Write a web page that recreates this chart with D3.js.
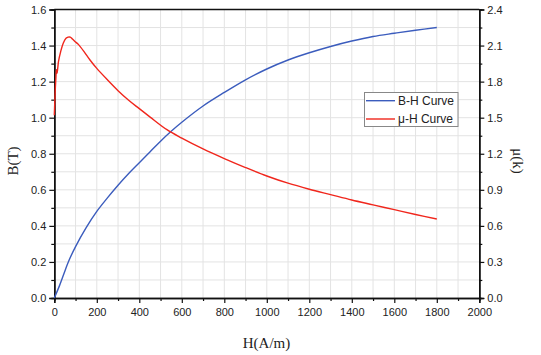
<!DOCTYPE html>
<html><head><meta charset="utf-8">
<script src="https://cdn.jsdelivr.net/npm/d3@7"></script>
<style>body{margin:0;background:#fff}svg{display:block}</style>
</head><body>
<svg id="c" width="541" height="355"></svg>
<script>
// Data
const bhH = [0,25,50,66,100,150,200,250,300,350,400,450,500,550,600,700,800,900,1000,1100,1200,1300,1400,1500,1600,1700,1800];
const bhB = [0,0.07,0.15,0.2,0.285,0.39,0.48,0.555,0.625,0.69,0.75,0.81,0.87,0.925,0.975,1.065,1.14,1.21,1.27,1.32,1.36,1.395,1.425,1.45,1.468,1.485,1.50];
const muH = [0,5,8,10,13,16,20,30,42,55,65,75,85,100,113,140,168,200,250,300,350,400,451,530,600,700,800,900,1000,1100,1200,1300,1400,1500,1600,1700,1800];
const muK = [1.52,1.75,1.85,1.90,1.87,1.91,1.97,2.05,2.12,2.16,2.17,2.17,2.155,2.13,2.11,2.05,1.98,1.91,1.815,1.725,1.645,1.575,1.505,1.40,1.33,1.24,1.16,1.085,1.015,0.955,0.905,0.86,0.815,0.775,0.735,0.695,0.657];
const xTicks = [0,200,400,600,800,1000,1200,1400,1600,1800,2000];
const yLeftTicks = [0,0.2,0.4,0.6,0.8,1.0,1.2,1.4,1.6];
const yRightTicks = [0,0.3,0.6,0.9,1.2,1.5,1.8,2.1,2.4];
const seriesNames = ["B-H Curve","μ-H Curve"];
const seriesColors = ["#3b5cbd","#f0261c"];

const svg = d3.select("#c");
const L = 54.3, R = 479.3, T = 9.5, B = 298;
const x = d3.scaleLinear().domain([0,2000]).range([L,R]);
const yL = d3.scaleLinear().domain([0,1.6]).range([B,T]);
const yR = d3.scaleLinear().domain([0,2.4]).range([B,T]);

// grid
const g = svg.append("g");
g.selectAll(".gx").data(d3.range(100,2000,100)).join("line")
  .attr("x1",d=>x(d)).attr("x2",d=>x(d)).attr("y1",T).attr("y2",B)
  .attr("stroke","#e3e3e3").attr("stroke-width",1);
g.selectAll(".gy").data(d3.range(1,16).map(d=>d/10)).join("line")
  .attr("y1",d=>yL(d)).attr("y2",d=>yL(d)).attr("x1",L).attr("x2",R)
  .attr("stroke","#e3e3e3").attr("stroke-width",1);

const font = "'Liberation Sans', Arial, sans-serif";
function styleAxis(sel){
  sel.selectAll("path").attr("stroke","#111").attr("stroke-width",1.5);
  sel.selectAll("line").attr("stroke","#111").attr("stroke-width",1.2);
  sel.selectAll("text").attr("font-family",font).attr("font-size",11).attr("fill","#222");
}
// minor ticks
const ax = svg.append("g").attr("transform",`translate(0,${B})`)
  .call(d3.axisBottom(x).tickValues(d3.range(100,2000,200)).tickSize(3).tickFormat(""));
styleAxis(ax);
const axM = svg.append("g").attr("transform",`translate(0,${B})`)
  .call(d3.axisBottom(x).tickValues(xTicks).tickSize(5).tickPadding(5).tickFormat(d3.format("d")));
styleAxis(axM);
const ayl = svg.append("g").attr("transform",`translate(${L},0)`)
  .call(d3.axisLeft(yL).tickValues(d3.range(0.1,1.6,0.2)).tickSize(3).tickFormat(""));
styleAxis(ayl);
const aylM = svg.append("g").attr("transform",`translate(${L},0)`)
  .call(d3.axisLeft(yL).tickValues(yLeftTicks).tickSize(5).tickPadding(3).tickFormat(d3.format(".1f")));
styleAxis(aylM);
const ayr = svg.append("g").attr("transform",`translate(${R},0)`)
  .call(d3.axisRight(yR).tickValues(d3.range(0.15,2.4,0.3)).tickSize(3).tickFormat(""));
styleAxis(ayr);
const ayrM = svg.append("g").attr("transform",`translate(${R},0)`)
  .call(d3.axisRight(yR).tickValues(yRightTicks).tickSize(5).tickPadding(3).tickFormat(d3.format(".1f")));
styleAxis(ayrM);
// top border
svg.append("line").attr("x1",L).attr("x2",R).attr("y1",T).attr("y2",T).attr("stroke","#111").attr("stroke-width",1.5);

// lines
const lineB = d3.line().x((d,i)=>x(bhH[i])).y(d=>yL(d)).curve(d3.curveCatmullRom.alpha(0.5));
const lineM = d3.line().x((d,i)=>x(muH[i])).y(d=>yR(d)).curve(d3.curveCatmullRom.alpha(0.5));
svg.append("path").attr("d",lineB(bhB)).attr("fill","none").attr("stroke",seriesColors[0]).attr("stroke-width",1.4);
svg.append("path").attr("d",lineM(muK)).attr("fill","none").attr("stroke",seriesColors[1]).attr("stroke-width",1.4);

// titles
const serif = "'Liberation Serif','Times New Roman',serif";
svg.append("text").attr("x",266.5).attr("y",348).attr("text-anchor","middle")
  .attr("font-family",serif).attr("font-size",15).attr("fill","#222").text("H(A/m)");
svg.append("text").attr("transform","translate(18,161) rotate(-90)").attr("text-anchor","middle")
  .attr("font-family",serif).attr("font-size",15).attr("fill","#222").text("B(T)");
svg.append("text").attr("transform","translate(513,161) rotate(90)").attr("text-anchor","middle")
  .attr("font-family",serif).attr("font-size",15).attr("fill","#222").text("μ(k)");

// legend
const lg = svg.append("g");
lg.append("rect").attr("x",364.5).attr("y",92.5).attr("width",93.5).attr("height",34)
  .attr("fill","#fff").attr("stroke","#888").attr("stroke-width",1);
seriesNames.forEach((n,i)=>{
  const yy = 100.7 + i*18.3;
  lg.append("line").attr("x1",366).attr("x2",395).attr("y1",yy).attr("y2",yy)
    .attr("stroke",seriesColors[i]).attr("stroke-width",1.4);
  lg.append("text").attr("x",398).attr("y",yy+4.3).attr("font-family",font)
    .attr("font-size",12).attr("fill","#222").text(n);
});
</script>
</body></html>
